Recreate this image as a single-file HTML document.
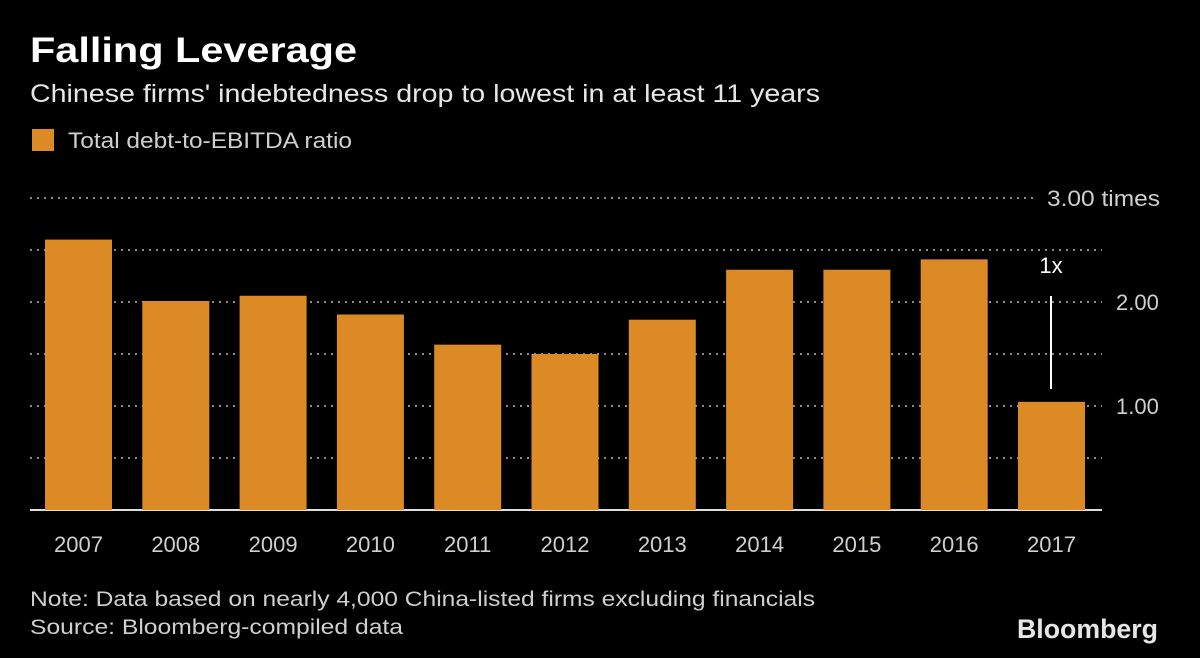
<!DOCTYPE html>
<html><head><meta charset="utf-8"><style>
body{margin:0;background:#000;width:1200px;height:658px;overflow:hidden;font-family:"Liberation Sans","DejaVu Sans",sans-serif;}
svg{display:block}
</style></head><body>
<svg id="chart" width="1200" height="658" xmlns="http://www.w3.org/2000/svg">
<rect width="1200" height="658" fill="#000"/>
<text x="30" y="62" fill="#fff" font-size="35" font-weight="bold" textLength="327" lengthAdjust="spacingAndGlyphs">Falling Leverage</text>
<text x="30" y="102" fill="#e6e6e6" font-size="25" textLength="790" lengthAdjust="spacingAndGlyphs">Chinese firms' indebtedness drop to lowest in at least 11 years</text>
<rect x="32" y="129" width="22" height="22" fill="#dc8a26"/>
<text x="68" y="148" fill="#cfcfcf" font-size="22" textLength="284" lengthAdjust="spacingAndGlyphs">Total debt-to-EBITDA ratio</text>
<g id="grid"></g>
<g id="bars"></g>
<g id="xlabels"></g>
<line x1="1051" y1="296" x2="1051" y2="389" stroke="#fff" stroke-width="2"/>
<text x="1051" y="273" fill="#fff" font-size="22" text-anchor="middle">1x</text>
<text x="30" y="606" fill="#cfcfcf" font-size="21" textLength="785" lengthAdjust="spacingAndGlyphs">Note: Data based on nearly 4,000 China-listed firms excluding financials</text>
<text x="30" y="634" fill="#cfcfcf" font-size="21" textLength="373" lengthAdjust="spacingAndGlyphs">Source: Bloomberg-compiled data</text>
<text x="1017" y="638" fill="#e6e6e6" font-size="27" font-weight="bold" textLength="141" lengthAdjust="spacingAndGlyphs">Bloomberg</text>
</svg>
<script>
const categories=["2007","2008","2009","2010","2011","2012","2013","2014","2015","2016","2017"];
const values=[2.60,2.01,2.06,1.88,1.59,1.50,1.83,2.31,2.31,2.41,1.04];
const gridValues=[0.5,1,1.5,2,2.5,3];
const tickLabels={"1":"1.00","2":"2.00","3":"3.00 times"};
const NS="http://www.w3.org/2000/svg";
const y0=510,ppu=104;
function y(v){return y0-v*ppu;}
function x(i){return 45+i*97.3;}
const bw=67;
function mk(tag,attrs,parent){const e=document.createElementNS(NS,tag);for(const k in attrs)e.setAttribute(k,attrs[k]);parent.appendChild(e);return e;}
const grid=document.getElementById('grid'),bars=document.getElementById('bars'),xl=document.getElementById('xlabels');
gridValues.forEach(v=>{
  const end=v===3?1035:1102;
  const l=mk('line',{x1:30,x2:end,y1:y(v),y2:y(v),stroke:'#8a8a8a','stroke-width':2,'stroke-dasharray':'2 5'},grid);
  
  
  const lab=tickLabels[String(v)];
  if(lab){const a={x:v===3?1047:1116,y:y(v)+8,fill:'#cfcfcf','font-size':22};
  if(v===3){a.textLength=113;a.lengthAdjust='spacingAndGlyphs';}
  const t=mk('text',a,grid);t.textContent=lab;
  
  }
});
values.forEach((v,i)=>{
  const r=mk('rect',{x:x(i),y:y(v),width:bw,height:y0-y(v),fill:'#dc8a26'},bars);
  
  
  const t=mk('text',{x:x(i)+bw/2,y:552,fill:'#cfcfcf','font-size':22,'text-anchor':'middle'},xl);
  t.textContent=categories[i];
  
  
});
const base=mk('line',{x1:30,x2:1102,y1:y0,y2:y0,stroke:'#ddd','stroke-width':2},grid);


</script>
</body></html>
